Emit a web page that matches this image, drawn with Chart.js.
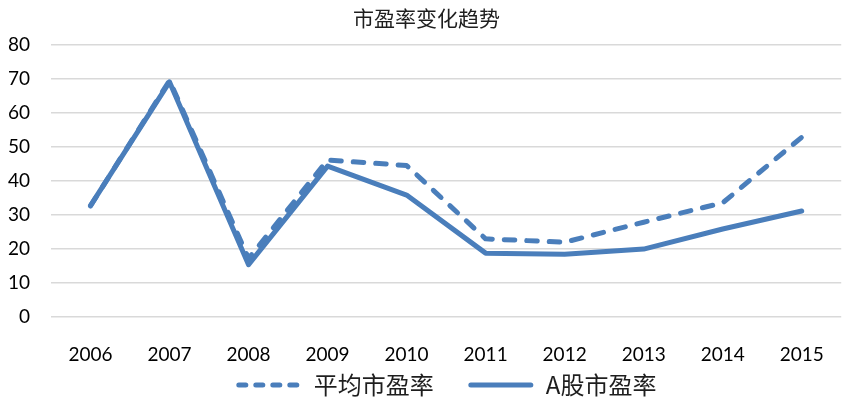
<!DOCTYPE html>
<html>
<head>
<meta charset="utf-8">
<script src="https://cdn.jsdelivr.net/npm/chart.js@4.4.0/dist/chart.umd.min.js"></script>
<style>
  html, body { margin: 0; padding: 0; background: #fff; }
  #wrap { width: 850px; height: 403px; }
</style>
</head>
<body>
<div id="wrap"><canvas id="pe" width="850" height="403"></canvas></div>
<script>
// --- datos ---
const years = ["2006", "2007", "2008", "2009", "2010", "2011", "2012", "2013", "2014", "2015"];
const avgPE = [32.7, 69.6, 17.2, 46.2, 44.6, 23, 22, 27.9, 33.6, 52.9];
const aSharePE = [32.8, 69.2, 15.4, 44.4, 35.9, 18.8, 18.5, 20, 25.9, 31.2];
const yTicks = [0, 10, 20, 30, 40, 50, 60, 70, 80];

const blue = "#4a7ebb";
const textColor = "#1e1e1e";
const numFont = "Lato, 'Noto Sans', sans-serif";
const cjkFont = "'Noto Sans CJK SC', sans-serif";

// leyenda dibujada a mano (muestra de línea discontinua + texto)
const lineLegend = {
  id: "lineLegend",
  afterDraw(chart) {
    const ctx = chart.ctx;
    const sets = chart.data.datasets;
    const sample = 66, textGap = 12, itemGap = 34;
    ctx.save();
    ctx.font = "24px " + cjkFont;
    const widths = sets.map((d) => ctx.measureText(d.label).width);
    let total = 0;
    widths.forEach((w, i) => { total += sample + textGap + w + (i ? itemGap : 0); });
    const area = chart.chartArea;
    let x = (area.left + area.right) / 2 - total / 2;
    const y = 385;
    sets.forEach((d, i) => {
      if (i) x += itemGap;
      ctx.beginPath();
      ctx.strokeStyle = d.borderColor;
      ctx.lineWidth = d.borderWidth;
      ctx.lineCap = "round";
      ctx.setLineDash(d.borderDash ? [7, 10] : []);
      ctx.moveTo(x + 3, y);
      ctx.lineTo(x + sample - 3, y);
      ctx.stroke();
      ctx.setLineDash([]);
      x += sample + textGap;
      ctx.fillStyle = textColor;
      ctx.textBaseline = "middle";
      ctx.textAlign = "left";
      ctx.fillText(d.label, x, y);
      x += widths[i];
    });
    ctx.restore();
  },
};

new Chart(document.getElementById("pe"), {
  type: "line",
  data: {
    labels: years,
    datasets: [
      {
        label: "平均市盈率",
        data: avgPE,
        borderColor: blue,
        borderWidth: 5,
        borderDash: [10.5, 12],
        borderCapStyle: "round",
        borderJoinStyle: "round",
        pointRadius: 0,
        tension: 0,
      },
      {
        label: "A股市盈率",
        data: aSharePE,
        borderColor: blue,
        borderWidth: 5,
        borderCapStyle: "round",
        borderJoinStyle: "round",
        pointRadius: 0,
        tension: 0,
      },
    ],
  },
  plugins: [lineLegend],
  options: {
    responsive: false,
    animation: false,
    devicePixelRatio: 1,
    layout: { padding: { left: 8, right: 5, top: 0, bottom: 37 } },
    plugins: {
      title: {
        display: true,
        text: "市盈率变化趋势",
        color: textColor,
        font: { family: cjkFont, size: 21, weight: "normal" },
        padding: { top: 5, bottom: 15 },
      },
      legend: { display: false },
      tooltip: { enabled: false },
    },
    scales: {
      x: {
        offset: true,
        grid: { display: false, drawTicks: false },
        border: { display: false },
        ticks: { color: "#000", font: { family: numFont, size: 19 }, padding: 26 },
        afterFit: (axis) => { axis.height = 49; },
      },
      y: {
        min: 0,
        max: 80,
        afterBuildTicks: (axis) => { axis.ticks = yTicks.map((v) => ({ value: v })); },
        grid: { color: "#d9d9d9", lineWidth: 1.5, drawTicks: false },
        border: { display: false },
        ticks: { color: "#000", font: { family: numFont, size: 19 }, padding: 21 },
        afterFit: (axis) => { axis.width = 43; },
      },
    },
  },
});
</script>
</body>
</html>
